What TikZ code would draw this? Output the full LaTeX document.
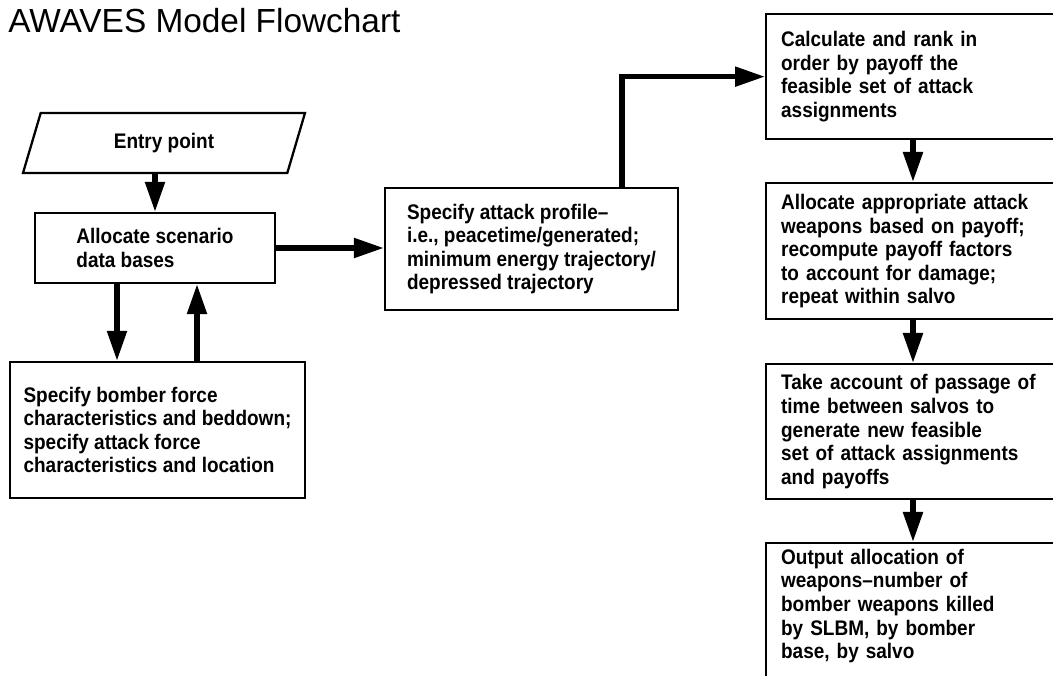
\documentclass[tikz,border=0pt]{standalone}
\usepackage{fontspec}
\setmainfont{Liberation Sans}
\newfontfamily\flowfont[FakeStretch=0.9]{Liberation Sans}
\usetikzlibrary{calc,arrows.meta,shapes.geometric}

\begin{document}
\begin{tikzpicture}[
  block/.style={draw, line width=1.3pt, align=left, inner sep=0pt,
    font=\flowfont\bfseries\fontsize{12}{13.4}\selectfont},
  flow/.style={line width=3pt, -{Triangle[length=0.6cm,width=0.38cm]}}
]
\useasboundingbox (0,0) rectangle (21.06,13.5);
\clip (0,0) rectangle (21.06,13.5);

%title
\node[anchor=base west, inner sep=0pt, font=\fontsize{19}{21}\selectfont] (title) at (0.16,12.84) {AWAVES Model Flowchart};

%left part
\node[block, trapezium, trapezium left angle=48, trapezium right angle=132,
      trapezium stretches body, minimum width=5.64cm, minimum height=1.2cm] (entry) at (3.28,10.64) {Entry point};
\node[block, minimum width=4.8cm, minimum height=1.4cm] (alloc) at (3.10,8.54) {Allocate scenario\\data bases};
\node[block, minimum width=5.9cm, minimum height=2.72cm] (bomber) at (3.15,4.90)
  {Specify bomber force\\characteristics and beddown;\\specify attack force\\characteristics and location};
%
\node[block, minimum width=5.86cm, minimum height=2.44cm] (profile) at (10.63,8.52)
  {Specify attack profile\textendash\\i.e., peacetime/generated;\\minimum energy trajectory/\\depressed trajectory};

%right column
\node[block, anchor=north west, text width=5.6cm, inner xsep=0.3cm, minimum height=2.5cm] (calc) at (15.30,13.24)
  {Calculate and rank in\\order by payoff the\\feasible set of attack\\assignments};
\node[block, anchor=north west, text width=5.6cm, inner xsep=0.3cm, minimum height=2.72cm] (weap) at (15.30,9.86)
  {Allocate appropriate attack\\weapons based on payoff;\\recompute payoff factors\\to account for damage;\\repeat within salvo};
\node[block, anchor=north west, text width=5.6cm, inner xsep=0.3cm, minimum height=2.7cm] (take) at (15.30,6.24)
  {Take account of passage of\\time between salvos to\\generate new feasible\\set of attack assignments\\and payoffs};
\node[block, anchor=north west, text width=5.6cm, inner xsep=0.3cm, inner ysep=0.12cm] (out) at (15.30,2.66)
  {Output allocation of\\weapons\textendash number of\\bomber weapons killed\\by SLBM, by bomber\\base, by salvo\\[1cm]~};

%arrows
\coordinate (dn) at (2.34,0);
\coordinate (up) at (3.94,0);
\coordinate (turn) at (12.44,0);
\coordinate (col) at (18.26,0);
\draw[flow] (entry.south -| alloc.north) -- (alloc.north);
\draw[flow] (alloc.south -| dn) -- (bomber.north -| dn);
\draw[flow] (bomber.north -| up) -- (alloc.south -| up);
\draw[flow] (alloc.east) -- (alloc.east -| profile.west);
\draw[flow] (profile.north -| turn) |- (calc.west);
\draw[flow] (calc.south -| col) -- (weap.north -| col);
\draw[flow] (weap.south -| col) -- (take.north -| col);
\draw[flow] (take.south -| col) -- (out.north -| col);

\end{tikzpicture}
\end{document}
